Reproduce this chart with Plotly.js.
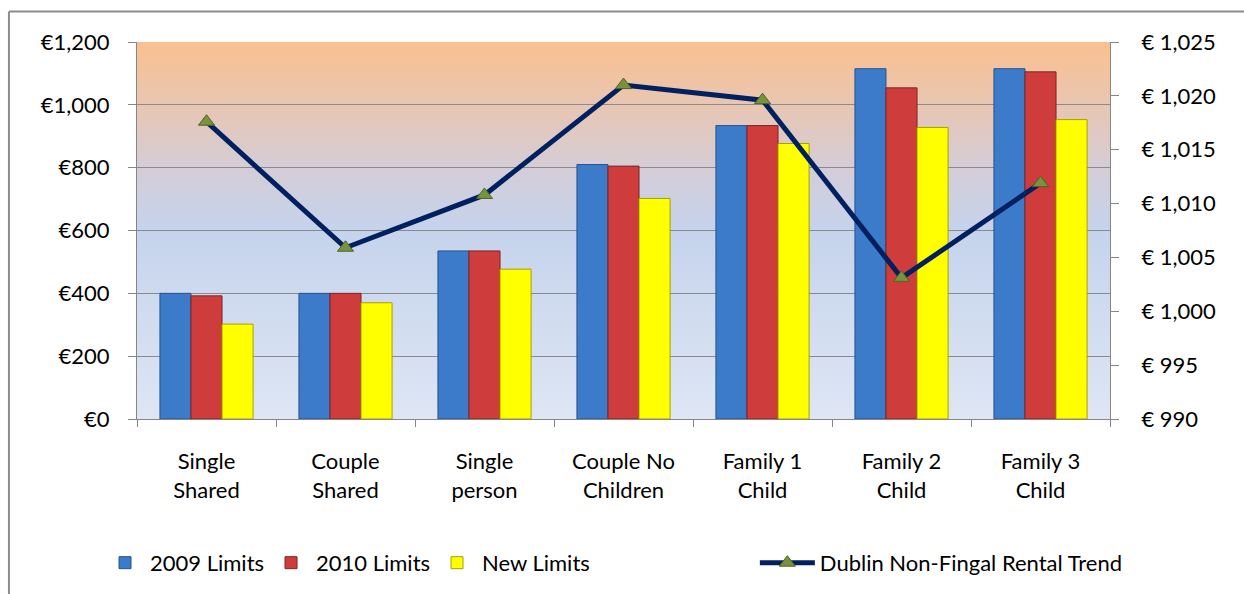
<!DOCTYPE html>
<html>
<head>
<meta charset="utf-8">
<script src="https://cdn.plot.ly/plotly-3.0.1.min.js"></script>
<style>
html,body{margin:0;padding:0;background:#fff;}
#chart{width:1244px;height:594px;}
</style>
</head>
<body>
<div id="chart"></div>
<script>
const categories = ["Single<br>Shared","Couple<br>Shared","Single<br>person","Couple No<br>Children","Family 1<br>Child","Family 2<br>Child","Family 3<br>Child"];
const limits2009 = [400, 400, 535, 810, 934, 1115, 1115];
const limits2010 = [392, 400, 535, 805, 934, 1054, 1105];
const newLimits = [302, 370, 477, 702, 877, 928, 953];
const rentalTrend = [1017.6, 1005.9, 1010.8, 1021.0, 1019.6, 1003.1, 1011.9];
const leftTicks = [0, 200, 400, 600, 800, 1000, 1200];
const leftTickText = ["€0", "€200", "€400", "€600", "€800", "€1,000", "€1,200"];
const rightTicks = [990, 995, 1000, 1005, 1010, 1015, 1020, 1025];
const rightTickText = ["€ 990", "€ 995", "€ 1,000", "€ 1,005", "€ 1,010", "€ 1,015", "€ 1,020", "€ 1,025"];

const gradSvg = '<svg xmlns="http://www.w3.org/2000/svg" width="100" height="100" preserveAspectRatio="none">' +
  '<defs><linearGradient id="g" x1="0" y1="0" x2="0" y2="1">' +
  '<stop offset="0" stop-color="#FAC08F"/>' +
  '<stop offset="0.17" stop-color="#E8C6B3"/>' +
  '<stop offset="0.34" stop-color="#D4CDD8"/>' +
  '<stop offset="0.5" stop-color="#C5D3EC"/>' +
  '<stop offset="1" stop-color="#DEE6F4"/>' +
  '</linearGradient></defs><rect width="100" height="100" fill="url(#g)"/></svg>';
const gradUri = 'data:image/svg+xml;base64,' + btoa(gradSvg);

const font = "Lato, 'Open Sans', sans-serif";
const fs = 22;

const traces = [
  {type:'bar', name:'2009 Limits', x:categories, y:limits2009, legend:'legend',
   marker:{color:'#3B7BC9', line:{color:'#27538C', width:1}}},
  {type:'bar', name:'2010 Limits', x:categories, y:limits2010, legend:'legend',
   marker:{color:'#CE3C3B', line:{color:'#7E2424', width:1}}},
  {type:'bar', name:'New Limits', x:categories, y:newLimits, legend:'legend',
   marker:{color:'#FFFF00', line:{color:'#A8A000', width:1}}},
  {type:'scatter', mode:'lines+markers', name:'Dublin Non-Fingal Rental Trend', legend:'legend2',
   x:categories, y:rentalTrend, yaxis:'y2',
   line:{color:'#002060', width:5},
   marker:{symbol:'triangle-up', size:14, color:'#77933C', line:{color:'#4F6228', width:1}}}
];

const layout = {
  width:1244, height:594,
  margin:{l:137, r:134, t:42, b:174},
  paper_bgcolor:'rgba(0,0,0,0)',
  plot_bgcolor:'rgba(0,0,0,0)',
  font:{family:font, size:fs, color:'#000'},
  barmode:'group', bargap:0.33, bargroupgap:0,
  showlegend:true,
  legend:{orientation:'h', x:-0.038, xanchor:'left', y:-0.378, yanchor:'middle',
          font:{family:font, size:fs, color:'#000'}, itemwidth:40, entrywidth:111, traceorder:'normal'},
  legend2:{orientation:'h', x:0.635, xanchor:'left', y:-0.378, yanchor:'middle',
          font:{family:font, size:fs, color:'#000'}, itemwidth:55},
  xaxis:{type:'category', tickson:'boundaries', ticks:'outside', ticklen:7, tickcolor:'#868686',
         showline:true, linecolor:'#868686', linewidth:1, showgrid:false,
         tickfont:{family:font, size:fs, color:'#000'}, ticklabelstandoff:23},
  yaxis:{range:[0,1200], tickmode:'array', tickvals:leftTicks, ticktext:leftTickText,
         ticks:'outside', ticklen:8, tickcolor:'#868686',
         showline:true, linecolor:'#868686', linewidth:1,
         showgrid:true, gridcolor:'#8A8A8A', gridwidth:1, zeroline:false,
         tickfont:{family:font, size:fs, color:'#000'}, ticklabelstandoff:14},
  yaxis2:{range:[990,1025], tickmode:'array', tickvals:rightTicks, ticktext:rightTickText,
          overlaying:'y', side:'right',
          ticks:'outside', ticklen:8, tickcolor:'#868686',
          showline:true, linecolor:'#868686', linewidth:1,
          showgrid:false, zeroline:false,
          tickfont:{family:font, size:fs, color:'#000'}, ticklabelstandoff:18},
  images:[{source:gradUri, xref:'paper', yref:'paper', x:0, y:1, sizex:1, sizey:1,
           xanchor:'left', yanchor:'top', sizing:'stretch', layer:'below'}],
  shapes:[
    {type:'line', xref:'paper', yref:'paper', x0:-0.1316, x1:-0.1316, y0:1.0807, y1:-0.5, line:{color:'#8C8C8C', width:2}},
    {type:'line', xref:'paper', yref:'paper', x0:-0.1316, x1:1.2, y0:1.0807, y1:1.0807, line:{color:'#8C8C8C', width:2}}
  ]
};

Plotly.newPlot('chart', traces, layout, {displayModeBar:false, staticPlot:true});
</script>
</body>
</html>
